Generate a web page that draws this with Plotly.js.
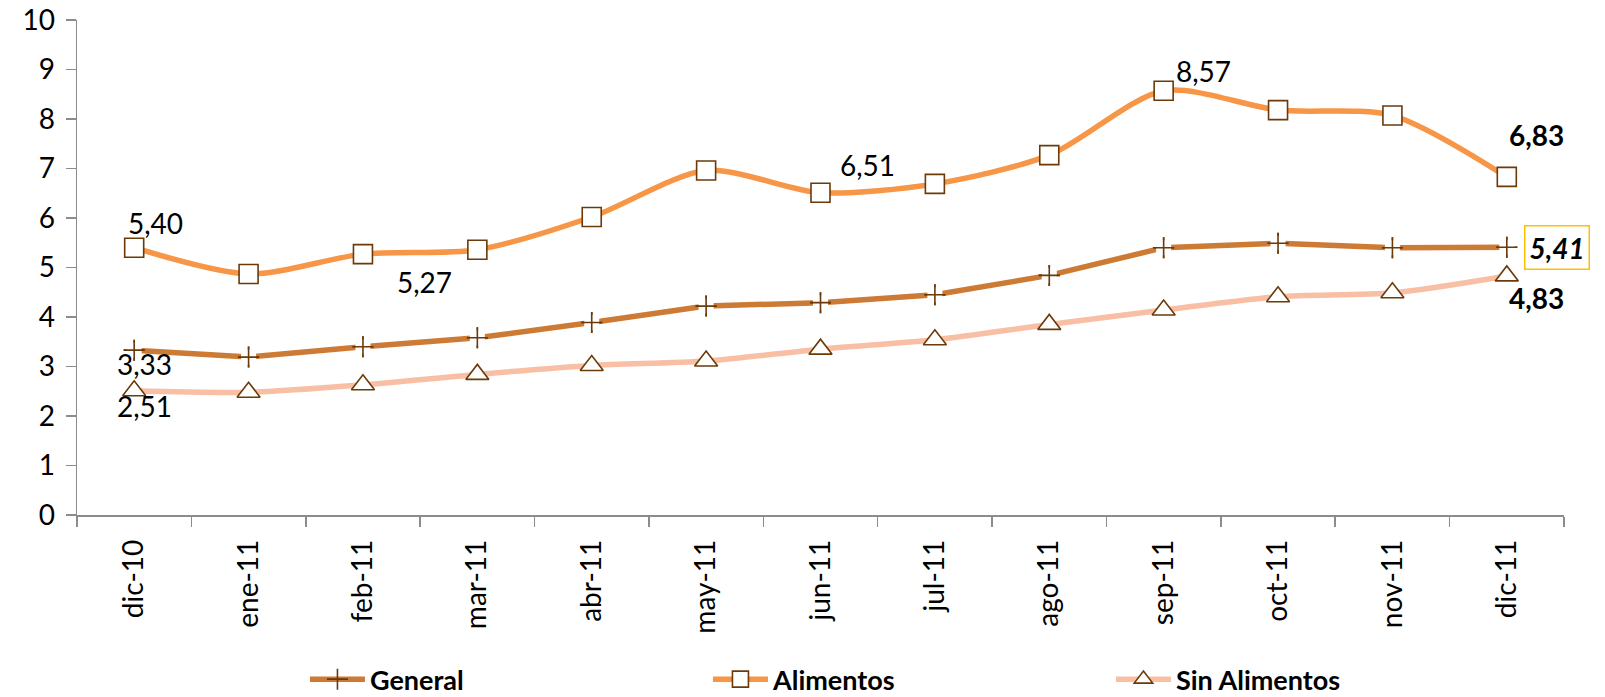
<!DOCTYPE html>
<html>
<head>
<meta charset="utf-8">
<script src="https://cdn.plot.ly/plotly-3.0.1.min.js"></script>
<style>html,body{margin:0;padding:0;background:#fff;}#chart{width:1605px;height:697px;}</style>
</head>
<body>
<div id="chart"></div>
<script>
const months = ["dic-10","ene-11","feb-11","mar-11","abr-11","may-11","jun-11","jul-11","ago-11","sep-11","oct-11","nov-11","dic-11"];
const general = [3.33,3.19,3.40,3.58,3.89,4.22,4.29,4.45,4.84,5.40,5.49,5.40,5.41];
const alimentos = [5.40,4.87,5.27,5.36,6.02,6.96,6.51,6.69,7.27,8.57,8.18,8.07,6.83];
const sinAlimentos = [2.51,2.48,2.63,2.84,3.02,3.11,3.35,3.54,3.85,4.14,4.41,4.49,4.83];
const yTicks = [0,1,2,3,4,5,6,7,8,9,10];

const FONT = "Lato, 'Liberation Sans', sans-serif";
const MK = "#6B3A08";

const traces = [
  {x: months, y: general, name: "General", type: "scatter", mode: "lines+markers",
   line: {color: "#CD7A35", width: 5.5},
   marker: {symbol: "cross-thin", size: 15, color: MK, line: {color: MK, width: 1.6}}},
  {x: months, y: general, type: "scatter", mode: "markers", showlegend: false, hoverinfo: "skip",
   marker: {symbol: "square", size: 15, color: "#ffffff", line: {width: 0}}},
  {x: months, y: general, type: "scatter", mode: "markers", showlegend: false, hoverinfo: "skip",
   marker: {symbol: "cross-thin", size: 15, color: MK, line: {color: MK, width: 1.6}}},
  {x: months, y: alimentos, name: "Alimentos", type: "scatter", mode: "lines+markers",
   line: {color: "#F79646", width: 5.5, shape: "spline", smoothing: 0.8},
   marker: {symbol: "square", size: 19, color: "#ffffff", line: {color: MK, width: 1.6}}},
  {x: months, y: sinAlimentos, name: "Sin Alimentos", type: "scatter", mode: "lines+markers",
   line: {color: "#F8BFA5", width: 5.5, shape: "spline", smoothing: 0.8},
   marker: {symbol: "triangle-up", size: 20, color: "#ffffff", line: {color: MK, width: 1.6}}}
];

function lab(x, y, text, dx, dy, opts) {
  return Object.assign({x: x, y: y, xref: "x", yref: "y", text: text, showarrow: false,
    xshift: dx, yshift: dy, font: {family: FONT, size: 28, color: "#000"}}, opts || {});
}

const annotations = [
  lab(months[0], alimentos[0], "5,40", 21, 25),
  lab(months[2], alimentos[2], "5,27", 62, -28),
  lab(months[6], alimentos[6], "6,51", 47, 28),
  lab(months[9], alimentos[9], "8,57", 40, 20),
  lab(months[12], alimentos[12], "<b>6,83</b>", 30, 42),
  lab(months[12], general[12], "<b><i>5,41</i></b>", 50, 0,
      {bordercolor: "#FFC000", borderwidth: 1.5, borderpad: 4, bgcolor: "#ffffff"}),
  lab(months[12], sinAlimentos[12], "<b>4,83</b>", 30, -22),
  lab(months[0], general[0], "3,33", 10, -14),
  lab(months[0], sinAlimentos[0], "2,51", 10, -15)
];

const layout = {
  width: 1605, height: 697,
  margin: {l: 77, r: 41, t: 20, b: 182},
  paper_bgcolor: "#ffffff", plot_bgcolor: "#ffffff",
  font: {family: FONT, size: 24, color: "#000"},
  showlegend: true,
  xaxis: {
    type: "category", range: [-0.5, 12.5], tickson: "boundaries",
    showline: true, linecolor: "#8C8C8C", linewidth: 1.5,
    ticks: "outside", ticklen: 10, tickcolor: "#8C8C8C", tickwidth: 1.5,
    tickangle: -90, showgrid: false, zeroline: false,
    tickfont: {family: FONT, size: 28, color: "#000"}, ticklabelstandoff: 12
  },
  yaxis: {
    range: [0, 10], tickvals: yTicks, ticktext: yTicks.map(String),
    showline: true, linecolor: "#8C8C8C", linewidth: 1.5,
    ticks: "outside", ticklen: 10, tickcolor: "#8C8C8C", tickwidth: 1.5,
    showgrid: false, zeroline: false,
    tickfont: {family: FONT, size: 28, color: "#000"}, ticklabelstandoff: 5
  },
  legend: {
    orientation: "h", xref: "container", yref: "container",
    x: 0.19, y: 0.025, xanchor: "left", yanchor: "middle",
    entrywidth: 333, entrywidthmode: "pixels", itemwidth: 55,
    font: {family: FONT, size: 27, color: "#000", weight: "bold"}
  },
  annotations: annotations
};

Plotly.newPlot("chart", traces, layout, {displayModeBar: false, staticPlot: true});
</script>
</body>
</html>
